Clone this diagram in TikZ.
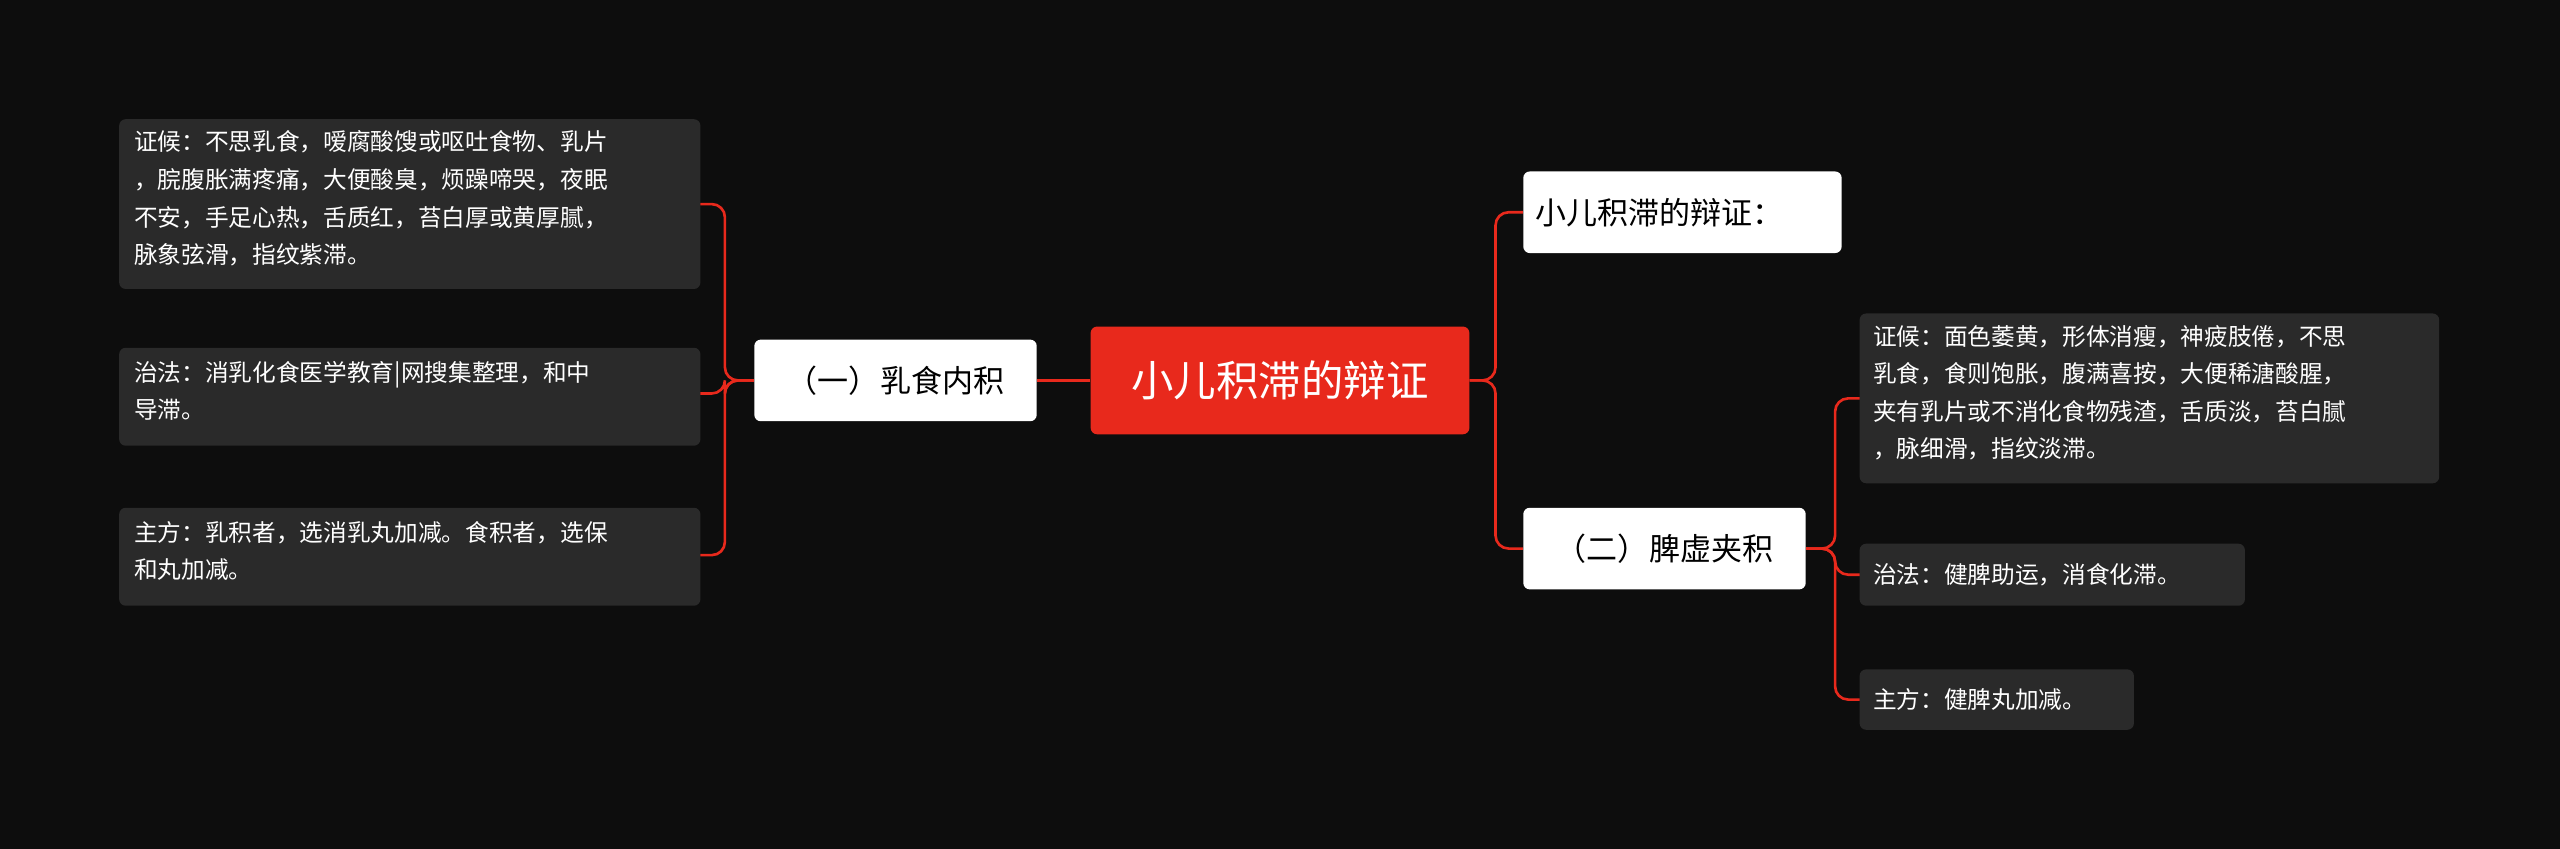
\documentclass[tikz,border=0pt]{standalone}
\usepackage{fontspec}
\setmainfont{Noto Sans CJK SC}
\begin{document}
\begin{tikzpicture}[x=1pt,y=-1pt,
 leaf/.style={fill=leafc,rounded corners=4pt,text=white,font=\fontsize{14.5}{23}\selectfont,align=left,anchor=north west,inner sep=0pt},
 wbox/.style={fill=white,rounded corners=4pt,text=black,font=\fontsize{19}{22}\selectfont,inner sep=0pt},
 con/.style={draw=redc,line width=1.6pt,rounded corners=8pt}]
\definecolor{bg}{HTML}{0D0D0D}\definecolor{leafc}{HTML}{2A2A2A}\definecolor{redc}{HTML}{E8291C}
\useasboundingbox[fill=bg] (0,0) rectangle (1568,520);
\node[fill=redc,rounded corners=4pt,minimum width=232pt,minimum height=66pt,text=white,font=\fontsize{26}{30}\selectfont,inner sep=0pt] (c) at (784,233) {小儿积滞的辩证};
\node[wbox,minimum width=173pt,minimum height=50pt] (l) at (548.5,233) {（一）乳食内积};
\node[wbox,minimum width=195pt,minimum height=50pt,text width=180pt,align=left] (r1) at (1030.5,130) {小儿积滞的辩证：};
\node[wbox,minimum width=173pt,minimum height=50pt] (r2) at (1019.5,336) {（二）脾虚夹积};
\fill[leafc,rounded corners=4pt] (73,73) rectangle (429,177);
\node[leaf] (l1) at (82,80) {证候：不思乳食，嗳腐酸馊或呕吐食物、乳片\\，脘腹胀满疼痛，大便酸臭，烦躁啼哭，夜眠\\不安，手足心热，舌质红，苔白厚或黄厚腻，\\脉象弦滑，指纹紫滞。};
\coordinate (l1a) at (429,125);
\fill[leafc,rounded corners=4pt] (73,213) rectangle (429,273);
\node[leaf] (l2) at (82,221) {治法：消乳化食医学教育|网搜集整理，和中\\导滞。};
\coordinate (l2a) at (429,241);
\fill[leafc,rounded corners=4pt] (73,311) rectangle (429,371);
\node[leaf] (l3) at (82,319) {主方：乳积者，选消乳丸加减。食积者，选保\\和丸加减。};
\coordinate (l3a) at (429,340);
\fill[leafc,rounded corners=4pt] (1139,192) rectangle (1494,296);
\node[leaf] (q1) at (1147,199) {证候：面色萎黄，形体消瘦，神疲肢倦，不思\\乳食，食则饱胀，腹满喜按，大便稀溏酸腥，\\夹有乳片或不消化食物残渣，舌质淡，苔白腻\\，脉细滑，指纹淡滞。};
\coordinate (q1a) at (1139,244);
\fill[leafc,rounded corners=4pt] (1139,333) rectangle (1375,371);
\node[leaf,anchor=west] (q2) at (1147,352) {治法：健脾助运，消食化滞。};
\coordinate (q2a) at (1139,352);
\fill[leafc,rounded corners=4pt] (1139,410) rectangle (1307,447);
\node[leaf,anchor=west] (q3) at (1147,428.5) {主方：健脾丸加减。};
\coordinate (q3a) at (1139,428.5);
\draw[con] (c.west) -- (l.east);
\foreach \t in {l1a,l2a,l3a} \draw[con] (l.west) -- (444,233) |- (\t);
\foreach \t in {r1,r2} \draw[con] (c.east) -- (916,233) |- (\t.west);
\foreach \t in {q1a,q2a,q3a} \draw[con] (r2.east) -- (1124,336) |- (\t);
\end{tikzpicture}
\end{document}
